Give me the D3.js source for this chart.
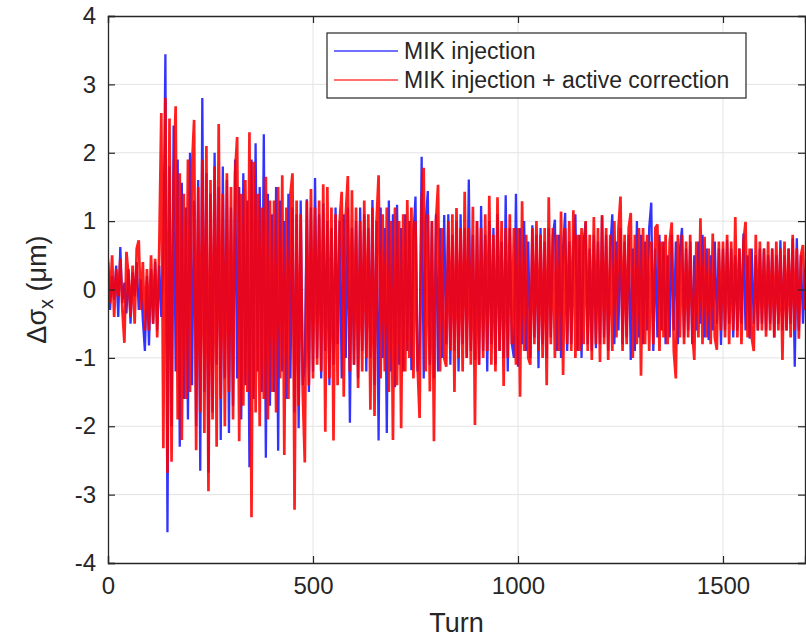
<!DOCTYPE html>
<html>
<head>
<meta charset="utf-8">
<script src="https://cdn.jsdelivr.net/npm/d3@7"></script>
<style>
  body { margin: 0; background: #fff; }
  svg text { font-family: "Liberation Sans", Arial, Helvetica, sans-serif; fill: #262626; }
</style>
</head>
<body>
<div id="chart"></div>
<script>
// samples every 5 turns (um)
const turnStep = 5;

const mikInjection = [
  0.45,-0.3,0.2,-0.15,0.35,-0.4,0.62,-0.2,0.1,-0.35,0.3,-0.5,0.25,-0.1,0.4,-0.3,0.15,-0.45,-0.9,0.2,
  -0.82,0.3,-0.5,0.4,-0.6,0.35,-0.4,0.5,3.44,-3.55,1.8,-2.0,2.4,-1.2,1.9,-2.3,1.56,-1.6,1.2,-1.9,
  2.0,-1.4,1.3,-2.0,1.6,-2.65,2.8,-1.5,1.7,-2.68,1.4,-1.8,2.0,-1.1,1.5,-2.2,1.8,-1.3,1.6,-2.1,
  1.2,-1.7,1.9,-1.3,1.5,-1.9,1.7,-1.4,1.3,-2.6,1.9,-1.6,2.14,-1.2,1.5,-1.5,2.27,-2.46,1.4,-1.7,
  1.1,-1.5,1.5,-2.36,1.3,-1.2,1.0,-1.6,1.4,-1.3,1.2,-1.8,1.1,-2.03,1.3,-1.4,-1.1,1.32,-1.5,1.2,
  -1.2,1.63,-1.0,1.1,-1.3,1.26,-0.9,1.0,-1.4,0.9,-1.1,1.2,-0.8,1.0,-1.3,1.1,-1.0,1.2,-1.95,0.9,
  -1.1,1.0,-1.3,1.2,-0.9,1.1,-1.2,0.9,-1.0,1.31,-1.4,1.0,-2.21,1.2,-1.0,0.9,-2.1,1.3,-1.2,1.1,
  -1.43,1.24,-1.1,0.9,-1.2,1.1,-0.9,1.0,-1.18,0.8,1.36,-1.2,-0.8,1.94,-1.3,1.0,1.44,-1.1,1.0,-1.3,
  1.1,-1.2,0.9,-1.0,1.09,-0.8,1.1,-1.1,0.8,-0.9,1.0,-1.2,1.1,-0.8,0.9,-1.0,1.61,-0.9,0.8,-1.03,
  1.0,-1.1,1.22,-0.9,0.8,-1.2,1.0,-0.8,0.9,-1.1,1.1,-0.9,0.7,-1.0,1.38,-1.2,0.9,-0.8,-1.0,1.4,
  -1.13,0.9,-0.8,1.0,-0.9,0.7,-1.0,0.94,-0.7,0.8,-1.15,0.9,-0.8,0.7,-1.0,0.9,-0.7,0.8,1.02,-0.9,
  0.8,-1.0,0.6,1.12,-0.9,0.7,-0.8,0.6,1.1,-0.9,0.8,-1.0,0.7,0.99,-0.8,0.6,-0.9,0.8,-0.86,0.7,
  -0.8,1.07,-0.7,0.8,-0.9,0.6,1.1,-0.8,0.7,-0.6,0.9,-0.8,0.7,-0.7,0.8,-1.03,0.6,-0.9,1.0,-0.7,
  0.8,-0.8,0.7,-0.6,0.9,1.27,-0.9,0.6,-0.7,0.8,-0.6,0.7,-0.8,0.5,-0.7,0.8,-0.6,0.7,-0.8,0.6,
  0.9,-0.7,0.6,-0.6,0.7,-0.8,0.5,-0.6,0.7,-0.5,0.8,-0.7,0.6,-0.74,0.5,-0.6,0.7,-0.5,0.6,-0.81,
  0.6,-0.6,0.72,-0.5,0.6,-0.7,0.5,-0.6,0.6,-0.5,0.82,-0.6,0.5,-0.72,0.6,-0.5,0.5,-0.6,0.6,-0.5,
  0.6,-0.6,0.5,-0.5,0.6,-0.7,0.5,-0.5,0.72,-0.6,0.5,-0.6,0.6,-0.5,0.75,-1.13,0.75,-0.6,0.5,-0.5,
  0.3
];

const mikCorrected = [
  0.4,-0.2,0.5,-0.4,0.3,-0.1,0.45,-0.3,-0.78,0.55,0.2,-0.4,0.35,-0.5,0.6,0.72,-0.3,0.4,-0.6,0.3,
  -0.6,0.5,-0.5,0.45,-0.7,0.6,2.58,-2.32,2.8,-2.68,2.5,-2.52,1.6,2.68,-1.9,1.7,-2.2,1.4,-1.6,1.9,
  -1.5,1.8,2.48,-2.35,1.5,-1.8,1.9,-2.1,2.1,-2.95,1.6,-1.9,1.8,-2.3,2.42,-1.6,1.4,-2.0,1.7,-1.5,
  1.5,-1.9,1.7,2.23,-2.22,1.4,-1.7,1.6,-1.5,2.3,-3.33,1.87,-1.8,1.4,-2.0,1.2,-1.6,1.65,-1.9,1.3,
  -1.5,1.3,-1.8,1.5,-1.3,1.67,-2.42,1.2,-1.6,1.4,1.7,-3.22,1.3,-1.7,1.1,-1.5,-2.53,1.3,-1.4,1.47,
  -1.3,1.2,-1.1,1.3,-1.2,1.54,-2.08,1.5,-1.3,1.2,-2.21,1.1,-1.4,1.0,1.43,-1.57,1.1,1.66,-1.2,1.45,
  -1.1,1.2,-1.44,1.0,-1.2,1.3,-1.0,1.1,-1.76,1.2,-1.85,1.0,1.67,-1.3,1.1,-1.2,1.2,-1.5,1.0,-2.2,
  1.2,-1.4,1.0,-2.03,1.1,-1.2,1.31,-1.0,1.2,-1.3,1.0,-1.1,-1.88,1.3,1.78,-1.2,1.1,-1.49,1.0,-2.22,
  1.0,1.53,-1.2,0.9,-1.0,-1.13,1.0,-0.9,1.1,-1.5,1.19,-1.0,0.9,-1.2,1.43,-1.0,0.9,-1.1,1.21,-1.98,
  1.0,-1.1,0.9,-1.0,1.1,-0.9,1.37,-1.1,0.8,-1.2,1.35,-0.9,1.0,-1.41,0.9,-1.0,1.1,-0.8,0.9,-1.1,
  0.9,-1.57,1.29,-0.9,0.8,-1.0,-1.1,0.9,-0.8,1.0,-0.9,0.8,-1.0,0.9,-1.4,1.35,-0.8,0.9,-1.0,0.8,
  -0.9,1.14,-1.25,0.9,-0.8,1.0,-0.9,1.16,-1.0,0.8,-0.9,0.9,-0.8,1.0,-0.9,0.8,-1.03,1.06,-0.8,0.9,
  -1.06,1.09,-0.8,0.9,-1.03,0.8,-0.9,1.0,-0.7,0.9,1.36,-0.9,0.8,-0.8,0.9,1.12,-1.0,0.8,-0.8,0.9,
  -1.26,0.9,-0.8,0.8,-0.9,0.7,-0.8,0.9,0.95,-0.9,0.7,-0.7,0.8,-0.8,0.7,0.98,-0.9,-1.3,0.8,-0.7,
  0.8,-0.8,0.7,-0.7,0.8,-0.6,-1.03,0.7,-0.7,1.04,-0.8,0.77,-0.7,0.6,-0.8,0.82,-0.7,-0.88,0.7,-0.6,
  0.7,-0.7,0.8,-0.8,0.7,-0.6,1.06,-0.7,0.6,-0.8,0.7,0.99,-0.7,0.6,-0.7,-0.9,0.8,-0.6,0.7,-0.6,
  0.6,-0.69,0.7,-0.6,0.6,-0.7,0.7,-0.6,0.6,-1.03,0.7,-0.6,0.6,-0.7,0.8,-0.6,0.6,-0.72,0.5,0.65,
  -0.3
];

const seriesNames = ["MIK injection", "MIK injection + active correction"];
const seriesColors = ["#0000ff", "#ff0000"];
const seriesWidth = [2.3, 2.7];
const seriesOpacity = [0.8, 0.88];
const xTicks = [0, 500, 1000, 1500];
const yTicks = [-4, -3, -2, -1, 0, 1, 2, 3, 4];

const W = 806, H = 638;
const margin = { top: 16, right: 1, bottom: 75, left: 108 };
const innerW = W - margin.left - margin.right;
const innerH = H - margin.top - margin.bottom;

const svg = d3.select("#chart").append("svg")
  .attr("width", W).attr("height", H);

const root = svg.append("g")
  .attr("transform", `translate(${margin.left},${margin.top})`);

const x = d3.scaleLinear().domain([0, 1700]).range([0, innerW]);
const y = d3.scaleLinear().domain([-4, 4]).range([innerH, 0]);

// grid
root.append("g").selectAll("line").data(xTicks.slice(1)).join("line")
  .attr("x1", d => x(d)).attr("x2", d => x(d))
  .attr("y1", 0).attr("y2", innerH)
  .attr("stroke", "#e3e3e3").attr("stroke-width", 1);
root.append("g").selectAll("line").data(yTicks.slice(1, -1)).join("line")
  .attr("x1", 0).attr("x2", innerW)
  .attr("y1", d => y(d)).attr("y2", d => y(d))
  .attr("stroke", "#e3e3e3").attr("stroke-width", 1);

// lines
root.append("clipPath").attr("id", "clip")
  .append("rect").attr("width", innerW).attr("height", innerH);

const line = d3.line()
  .x((d, i) => x(i * turnStep))
  .y(d => y(d));

const lines = root.append("g").attr("clip-path", "url(#clip)");
[mikInjection, mikCorrected].forEach((vals, k) => {
  lines.append("path")
    .datum(vals)
    .attr("d", line)
    .attr("fill", "none")
    .attr("stroke", seriesColors[k])
    .attr("stroke-opacity", seriesOpacity[k])
    .attr("stroke-width", seriesWidth[k])
    .attr("stroke-linejoin", "bevel");
});

// axes, MATLAB style: ticks pointing in, box all round
const tickLen = 7;
const axisColor = "#262626";
const plain = d => String(d);

const xAxis = root.append("g").attr("transform", `translate(0,${innerH})`)
  .call(d3.axisBottom(x).tickValues(xTicks).tickSize(-tickLen).tickPadding(14).tickFormat(plain));
const xTop = root.append("g")
  .call(d3.axisTop(x).tickValues(xTicks).tickSize(-tickLen).tickFormat(""));
const yAxis = root.append("g")
  .call(d3.axisLeft(y).tickValues(yTicks).tickSize(-tickLen).tickPadding(12).tickFormat(plain));
const yRight = root.append("g").attr("transform", `translate(${innerW},0)`)
  .call(d3.axisRight(y).tickValues(yTicks).tickSize(-tickLen).tickFormat(""));

[xAxis, xTop, yAxis, yRight].forEach(g => {
  g.select(".domain").attr("stroke", axisColor).attr("stroke-width", 1.3);
  g.selectAll(".tick line").attr("stroke", axisColor).attr("stroke-width", 1.2);
  g.selectAll("text").attr("fill", axisColor).style("font-size", "24px");
});

// axis titles
svg.append("text")
  .attr("x", margin.left + innerW / 2).attr("y", 632)
  .attr("text-anchor", "middle")
  .style("font-size", "27px")
  .text("Turn");

const yl = svg.append("text")
  .attr("transform", `translate(46,${margin.top + innerH / 2}) rotate(-90)`)
  .attr("text-anchor", "middle")
  .style("font-size", "27px");
yl.append("tspan").text("Δσ");
yl.append("tspan").attr("dy", 7).style("font-size", "20px").text("x");
yl.append("tspan").attr("dy", -7).text(" (μm)");

// legend
const legend = svg.append("g").attr("transform", "translate(327,33)");
legend.append("rect")
  .attr("width", 419).attr("height", 65)
  .attr("fill", "#fff").attr("stroke", axisColor).attr("stroke-width", 1.2);
seriesNames.forEach((name, k) => {
  const row = legend.append("g").attr("transform", `translate(0,${18 + k * 29})`);
  row.append("line")
    .attr("x1", 7).attr("x2", 71).attr("y1", 0).attr("y2", 0)
    .attr("stroke", seriesColors[k]).attr("stroke-opacity", 0.75).attr("stroke-width", 1.3);
  row.append("text")
    .attr("x", 77).attr("y", 8)
    .style("font-size", "23px")
    .text(name);
});
</script>
</body>
</html>
